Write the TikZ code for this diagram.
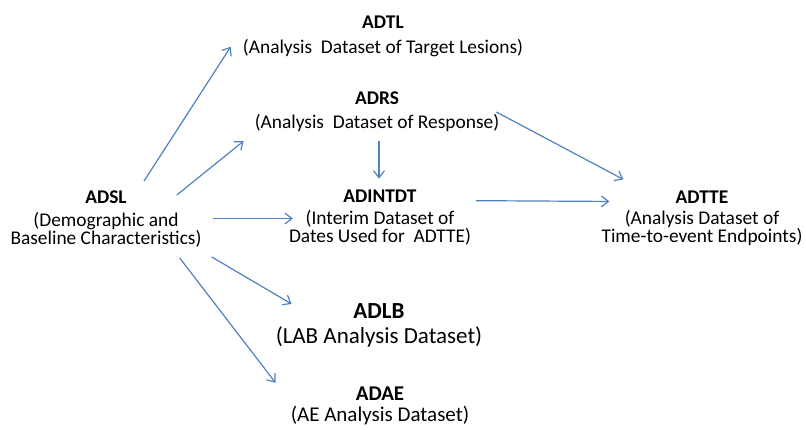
\documentclass[tikz,border=0pt]{standalone}
\usepackage{fontspec}
\setmainfont{Carlito}
\usepackage{tikz}
\usetikzlibrary{scopes}
\usetikzlibrary{arrows.meta}

\definecolor{linkblue}{HTML}{4F81BD}

\begin{document}
\begin{tikzpicture}[x=1pt,y=-1pt,
        ds/.style={align=center,inner sep=0pt,font=\fontsize{19.4pt}{18pt}\selectfont},
        link/.style={linkblue,line width=1.2pt,-{Straight Barb[length=7pt,width=11pt]}}]
        \begin{scope}
            \useasboundingbox (0,0) rectangle (806,429);

            % Subject level
            \node[ds] (adsl) at (106,218.5) {\textbf{ADSL}\\[5pt](Demographic and\\Baseline Characteristics)};

            % Tumour datasets
            \node[ds] (adtl) at (383,36) {\textbf{ADTL}\\[7pt](Analysis~ Dataset of Target Lesions)};
            \node[ds] (adrs) at (377,112) {\textbf{ADRS}\\[6pt](Analysis~ Dataset of Response)};

            % Dates and time-to-event
            \node[ds] (adintdt) at (380,217.5) {\textbf{ADINTDT}\\[4pt](Interim Dataset of\\Dates Used for~ ADTTE)};
            \node[ds] (adtte) at (702,218) {\textbf{ADTTE}\\[3pt](Analysis Dataset of\\Time-to-event Endpoints)};

            % Safety
            \node[ds,font=\fontsize{23pt}{20pt}\selectfont] (adlb) at (379,325) {\textbf{ADLB}\\[5pt](LAB Analysis Dataset)};
            \node[ds,font=\fontsize{21pt}{19pt}\selectfont] (adae) at (380,406) {\textbf{ADAE}\\[2pt](AE Analysis Dataset)};

            {[link]
                \draw ([xshift=38pt,yshift=9pt]adsl.north) -- ([xshift=-12pt,yshift=10pt]adtl.south west);
                \draw ([xshift=-25pt,yshift=-5pt]adsl.north east) -- ([xshift=-11pt,yshift=-9pt]adrs.south west);
                \draw ([xshift=11pt]adsl.east) -- ([xshift=4pt]adsl.east -| adintdt.west);
                \draw ([xshift=10pt,yshift=-10pt]adsl.south east) -- ([xshift=16pt,yshift=-1pt]adlb.north west);
                \draw ([xshift=-22pt,yshift=-11pt]adsl.south east) -- ([xshift=-15pt,yshift=4pt]adae.north west);

                \draw ([xshift=2pt,yshift=-9pt]adrs.south) -- ([xshift=-1pt,yshift=11pt]adintdt.north);
                \draw ([xshift=-3pt]adrs.east) -- ([xshift=22pt,yshift=11pt]adtte.north west);

                \draw ([xshift=5pt,yshift=-11pt]adintdt.north east) -- ([xshift=8pt,yshift=-11pt]adtte.north west);
            }

        \end{scope}
\end{tikzpicture}
\end{document}
